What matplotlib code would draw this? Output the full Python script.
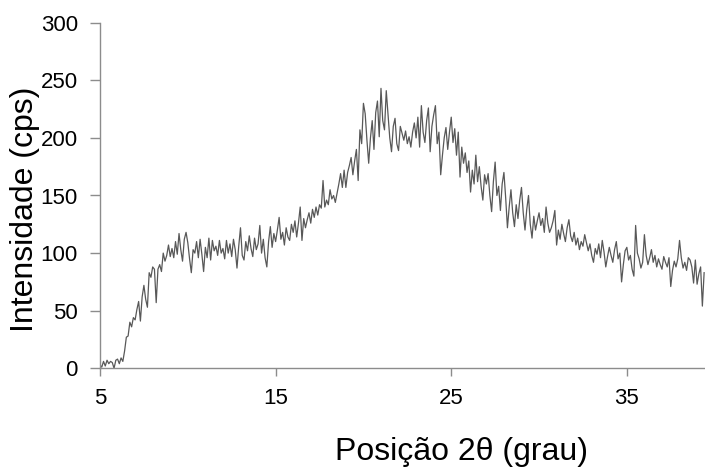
import numpy as np
import matplotlib
matplotlib.use("Agg")
import matplotlib.pyplot as plt

# Diffractogram sampled every 0.1 degree from 5.0 to 39.4 (2-theta)
two_theta_start = 5.0
two_theta_step = 0.1
intensity = [
    3, 1, 6, 2, 7, 4, 6, 5, 0, 7,                  # 5.x
    8, 4, 9, 6, 15, 27, 28, 40, 36, 44,            # 6.x
    42, 51, 58, 41, 62, 72, 60, 53, 83, 79,        # 7.x
    88, 86, 57, 86, 90, 84, 100, 93, 98, 107,      # 8.x
    97, 104, 96, 110, 99, 117, 103, 93, 112, 118,  # 9.x
    109, 95, 83, 103, 100, 110, 96, 112, 99, 84,   # 10.x
    105, 96, 113, 94, 111, 102, 106, 98, 111, 100, # 11.x
    104, 95, 111, 100, 108, 97, 112, 103, 87, 106, # 12.x
    122, 98, 94, 110, 102, 115, 104, 97, 113, 103, # 13.x
    108, 124, 100, 112, 96, 88, 110, 123, 105, 117,# 14.x
    110, 120, 131, 112, 118, 107, 122, 114, 111, 125,  # 15.x
    118, 128, 114, 126, 140, 111, 130, 122, 129, 135,  # 16.x
    126, 138, 131, 140, 133, 142, 139, 163, 140, 146,  # 17.x
    142, 155, 147, 150, 144, 152, 160, 169, 157, 172,  # 18.x
    157, 170, 176, 183, 168, 180, 190, 163, 207, 195,  # 19.x
    230, 221, 198, 178, 200, 215, 190, 222, 232, 201,  # 20.x
    243, 215, 207, 241, 220, 200, 188, 210, 217, 195,  # 21.x
    189, 210, 204, 198, 206, 195, 201, 192, 205, 213,  # 22.x
    200, 218, 192, 228, 205, 196, 215, 226, 188, 210,  # 23.x
    220, 228, 195, 205, 168, 185, 200, 209, 190, 205,  # 24.x
    218, 196, 208, 185, 205, 166, 192, 178, 187, 170,  # 25.x
    180, 153, 172, 160, 185, 162, 175, 158, 146, 168,  # 26.x
    160, 169, 150, 136, 162, 179, 150, 158, 137, 160,  # 27.x
    170, 148, 122, 140, 155, 135, 123, 142, 130, 146,  # 28.x
    157, 135, 120, 138, 150, 125, 113, 132, 120, 128,  # 29.x
    135, 124, 130, 118, 140, 126, 118, 122, 128, 137,  # 30.x
    107, 120, 112, 125, 117, 110, 122, 129, 115, 110,  # 31.x
    118, 107, 113, 103, 110, 106, 116, 109, 102, 108,  # 32.x
    98, 92, 104, 99, 108, 96, 111, 101, 88, 97,        # 33.x
    105, 98, 92, 103, 110, 95, 100, 75, 90, 102,       # 34.x
    105, 94, 98, 86, 80, 124, 100, 95, 87, 92,         # 35.x
    116, 98, 90, 96, 103, 92, 98, 88, 95, 90,          # 36.x
    86, 97, 92, 88, 96, 71, 85, 93, 88, 95,            # 37.x
    111, 96, 87, 92, 85, 96, 94, 88, 74, 94,           # 38.x
    73, 82, 88, 54, 83,                                # 39.x
]
x_ticks = [5, 15, 25, 35]
y_ticks = [0, 50, 100, 150, 200, 250, 300]

two_theta = two_theta_start + two_theta_step * np.arange(len(intensity))

plt.rcParams["font.family"] = ["Liberation Sans", "DejaVu Sans"]

fig = plt.figure(figsize=(7.05, 4.69), dpi=100)
ax = fig.add_axes([100 / 705, 1 - 368.3 / 469, 605 / 705, (368.3 - 22.7) / 469])

ax.plot(two_theta, intensity, color="#585858", lw=0.9)

ax.set_xlim(5, 39.45)
ax.set_ylim(0, 300)
ax.set_xticks(x_ticks)
ax.set_yticks(y_ticks)

axis_grey = "#8c8c8c"
for side in ("top", "right"):
    ax.spines[side].set_visible(False)
for side in ("left", "bottom"):
    ax.spines[side].set_color(axis_grey)
    ax.spines[side].set_linewidth(1.0)

ax.tick_params(axis="x", direction="out", length=6, width=1, color=axis_grey,
               labelsize=16, pad=8)
ax.tick_params(axis="y", direction="out", length=7, width=1, color=axis_grey,
               labelsize=16, pad=9)

fig.text(25 / 705, 1 - 209 / 469, "Intensidade (cps)", rotation=90,
         ha="center", va="center", fontsize=23)
fig.text(462 / 705, 1 - 460 / 469, "Posição 2θ (grau)",
         ha="center", va="baseline", fontsize=23)

fig.savefig("out.png", dpi=100)
